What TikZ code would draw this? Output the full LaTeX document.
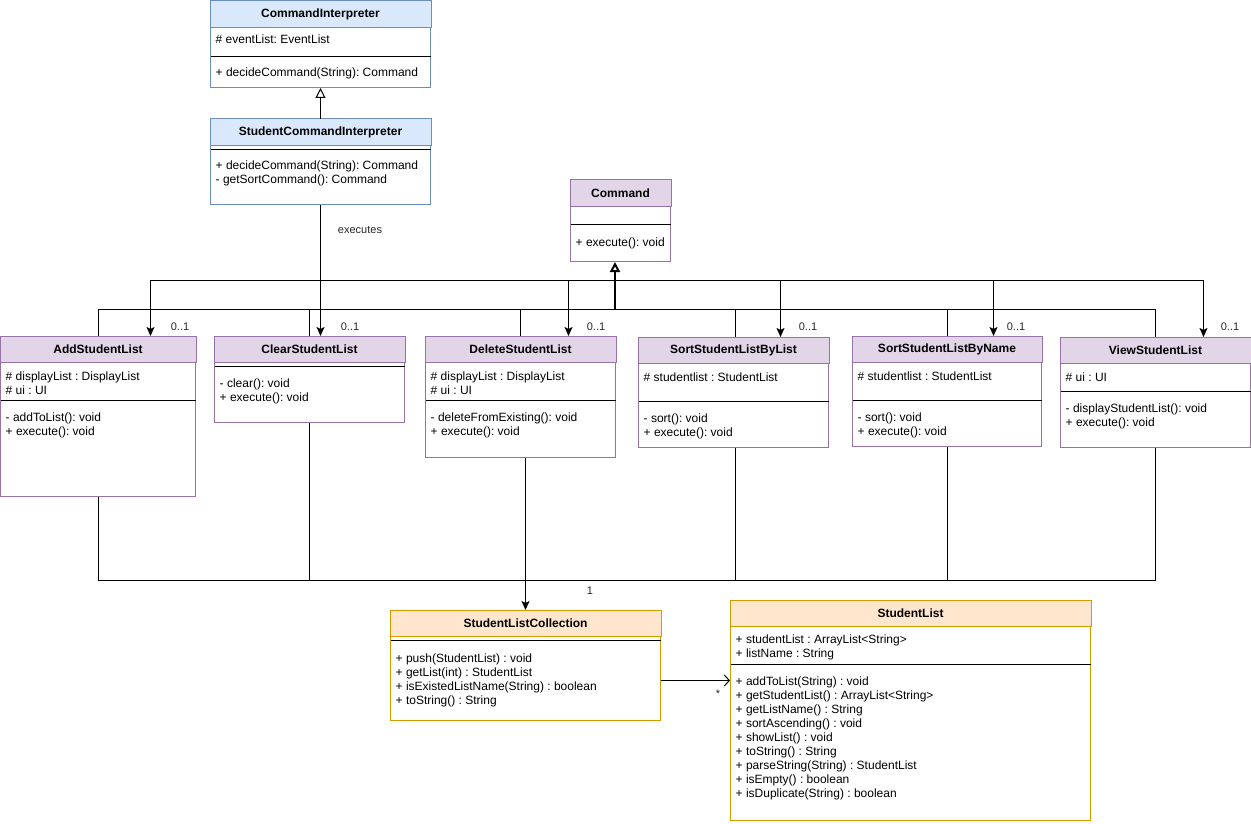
\documentclass[tikz,border=0pt]{standalone}
\usepackage{fontspec}
\setmainfont{Liberation Sans}
\frenchspacing
\usetikzlibrary{arrows.meta,calc}
\definecolor{bluef}{HTML}{DAE8FC}\definecolor{blued}{HTML}{6C8EBF}
\definecolor{purf}{HTML}{E1D5E7}\definecolor{purd}{HTML}{9673A6}
\definecolor{orf}{HTML}{FFE6CC}\definecolor{ord}{HTML}{D79B00}
\tikzset{
  mem/.style={anchor=north west, inner sep=0pt, align=left, font=\frenchspacing\fontsize{12}{14}\selectfont},
  ttl/.style={inner sep=0pt, font=\bfseries\fontsize{12}{14}\selectfont},
  lbl/.style={inner sep=0pt, font=\fontsize{11}{13}\selectfont, text=black!85},
  conn/.style={line width=1pt, draw=black},
  arr/.style={conn, -{Stealth[length=9pt,width=8pt,inset=2pt]}},
  inh/.style={conn, -{Triangle[open,length=10pt,width=10pt]}},
  opn/.style={conn, -{Straight Barb[length=5pt,width=11pt]}},
}
% #1 palette, #2 name, #3 left, #4 top, #5 width, #6 height, #7 separator offset, #8 title
\newcommand\umlbox[8]{%
  \node[draw=#1d, fill=white, line width=1pt, minimum width=#5pt, minimum height=#6pt, inner sep=0pt, anchor=north west] (#2) at (#3,#4) {};
  \draw[draw=#1d, fill=#1f, line width=1pt] (#2.north west) rectangle ([yshift=-26.5pt]#2.north east);
  \node[ttl] (#2-t) at ([yshift=-13.5pt]#2.north) {#8};
  \draw[line width=1pt] ([yshift=-#7pt,xshift=0.5pt]#2.north west) -- ([yshift=-#7pt,xshift=-0.5pt]#2.north east);
}
% #1 node name, #2 left, #3 centre of first line, #4 text
\newcommand\members[4]{%
  \node[mem] (#1) at (#2+5.5,#3-6) {\strut #4};
}
\begin{document}
\begin{tikzpicture}[x=1pt,y=-1pt]
\useasboundingbox (0,0) rectangle (1251,824);

% ---- interpreters
\umlbox{blue}{ci}{210}{1}{220}{86}{56}{CommandInterpreter}
\members{ci-a}{210}{40}{\# eventList: EventList}
\members{ci-m}{210}{73}{+ decideCommand(String): Command}

\umlbox{blue}{sci}{210}{119}{220}{85}{31}{StudentCommandInterpreter}
\members{sci-m}{210}{166}{+ decideCommand(String): Command\\- getSortCommand(): Command}

% ---- command
\umlbox{pur}{cmd}{570}{180}{100}{81}{44}{Command}
\members{cmd-m}{570}{242}{+ execute(): void}

% ---- command subclasses
\umlbox{pur}{add}{0}{336}{195}{160}{64}{AddStudentList}
\members{add-a}{0}{376}{\# displayList : DisplayList\\\# ui : UI}
\members{add-m}{0}{417}{- addToList(): void\\+ execute(): void}

\umlbox{pur}{clr}{214}{336}{190}{86}{30}{ClearStudentList}
\members{clr-m}{214}{383}{- clear(): void\\+ execute(): void}

\umlbox{pur}{del}{425}{336}{190}{121}{64}{DeleteStudentList}
\members{del-a}{425}{376}{\# displayList : DisplayList\\\# ui : UI}
\members{del-m}{425}{417}{- deleteFromExisting(): void\\+ execute(): void}

\umlbox{pur}{sbl}{638}{337}{190}{110}{64}{SortStudentListByList}
\members{sbl-a}{638}{377}{\# studentlist : StudentList}
\members{sbl-m}{638}{418}{- sort(): void\\+ execute(): void}

\umlbox{pur}{sbn}{852}{336}{189}{110}{64}{SortStudentListByName}
\members{sbn-a}{852}{376}{\# studentlist : StudentList}
\members{sbn-m}{852}{417}{- sort(): void\\+ execute(): void}

\umlbox{pur}{view}{1060}{337}{190}{110}{54}{ViewStudentList}
\members{view-a}{1060}{377}{\# ui : UI}
\members{view-m}{1060}{408}{- displayStudentList(): void\\+ execute(): void}

% ---- collections
\umlbox{or}{slc}{390}{610}{270}{110}{30}{StudentListCollection}
\members{slc-m}{390}{658}{+ push(StudentList) : void\\+ getList(int) : StudentList\\+ isExistedListName(String) : boolean\\+ toString() : String}

\umlbox{or}{sl}{730}{600}{360}{220}{64}{StudentList}
\members{sl-a}{730}{639}{+ studentList : ArrayList<String>\\+ listName : String}
\members{sl-m}{730}{681}{+ addToList(String) : void\\+ getStudentList() : ArrayList<String>\\+ getListName() : String\\+ sortAscending() : void\\+ showList() : void\\+ toString() : String\\+ parseString(String) : StudentList\\+ isEmpty() : boolean\\+ isDuplicate(String) : boolean}

% ---- generalisation of interpreter
\draw[inh] (sci.north) -- (ci.south);

% ---- executes (bus at y=280)
\coordinate (exebus) at (sci.south |- 0,280);
\draw[arr] (sci.south) -- (exebus) -| ($(add.north)+(52.5,0)$);
\draw[arr] (exebus) -- (exebus |- clr.north);
\draw[arr] (exebus) -| ($(del.north)+(48,0)$);
\draw[arr] (exebus) -| ($(sbl.north)+(47,0)$);
\draw[arr] (exebus) -| ($(sbn.north)+(46.5,0)$);
\draw[arr] (exebus) -| ($(view.north)+(48,0)$);
\node[lbl] (exe-l) at (360,230) {executes};
\node[lbl] (m-add) at (180,327) {0..1};
\node[lbl] (m-clr) at (350,327) {0..1};
\node[lbl] (m-del) at (596,327) {0..1};
\node[lbl] (m-sbl) at (808,327) {0..1};
\node[lbl] (m-sbn) at (1016,327) {0..1};
\node[lbl] (m-view) at (1230,327) {0..1};

% ---- generalisation of commands (bus at y=309)
\coordinate (inhbus) at (615,309);
\draw[conn] (add.north) |- (inhbus);
\draw[conn] (clr.north) |- (inhbus);
\draw[conn] (del.north) |- (inhbus);
\draw[conn] ($(sbl.north)+(2,0)$) |- (inhbus);
\draw[conn] (sbn.north) |- (inhbus);
\draw[conn] (view.north) |- (inhbus);
\draw[inh, line width=2pt] (inhbus) -- (inhbus |- cmd.south);

% ---- associations to StudentListCollection (bus at y=580)
\coordinate (slcbus) at (525,580);
\draw[conn] (add.south) |- (slcbus);
\draw[conn] (clr.south) |- (slcbus);
\draw[conn] ($(sbl.south)+(2,0)$) |- (slcbus);
\draw[conn] (sbn.south) |- (slcbus);
\draw[conn] (view.south) |- (slcbus);
\draw[arr] (del.south -| slc.north) -- (slc.north);
\node[lbl] (m-one) at (590,591) {1};

% ---- collection to list
\coordinate (slcout) at ($(slc.east)+(0,15)$);
\draw[opn] (slcout) -- (slcout -| sl.west);
\node[lbl] (m-star) at (718,694) {*};
\end{tikzpicture}
\end{document}
